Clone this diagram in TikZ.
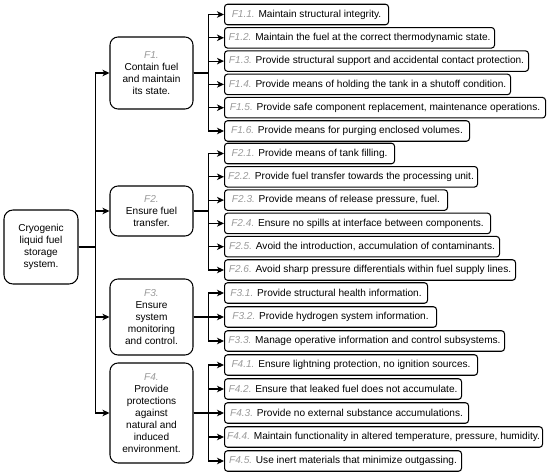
\documentclass[tikz,border=0pt]{standalone}
\usepackage{fontspec}
\setmainfont{Liberation Sans}
\usetikzlibrary{arrows.meta}
\definecolor{lbl}{HTML}{9A9A9A}
\newcommand{\fl}[1]{{\color{lbl}\itshape #1}}
\tikzset{
  base/.style={draw=black, line width=1.05pt, font=\fontsize{10.1}{11.9}\selectfont, text=black},
  rootbox/.style={base, rounded corners=9pt, minimum width=74pt, minimum height=74pt, align=center, inner sep=1pt},
  midbox/.style={base, rounded corners=8pt, minimum width=83pt, align=center, inner sep=1pt},
  leaf/.style={base, rounded corners=3pt, anchor=west, minimum height=20.5pt, inner xsep=1pt, inner ysep=0pt},
  arr/.style={line width=1.05pt, -{Stealth[length=7pt,width=6.5pt,inset=2pt]}},
}
\begin{document}
\begin{tikzpicture}[x=1pt,y=-1pt]
\useasboundingbox (0,0) rectangle (550,476);
\node[rootbox] (root) at (41,247) {Cryogenic\\liquid fuel\\storage\\system.};

\node[midbox, minimum height=72pt] (f1) at (151.5,73) {\fl{F1.}\\Contain fuel\\and maintain\\its state.};
\node[midbox, minimum height=50pt] (f2) at (151.5,211) {\fl{F2.}\\Ensure fuel\\transfer.};
\node[midbox, minimum height=76pt] (f3) at (151.5,317) {\fl{F3.}\\Ensure\\system\\monitoring\\and control.};
\node[midbox, minimum height=100pt] (f4) at (151.5,413) {\fl{F4.}\\Provide\\protections\\against\\natural and\\induced\\environment.};

\foreach \m in {f1,f2,f3,f4}
  \draw[arr] (root.east) -- ++(17,0) |- (\m.west);

% F1 leaves
\node[leaf, minimum width=164pt] (f11) at (224,14.5) {\fl{F1.1.} Maintain structural integrity.};
\node[leaf, minimum width=270pt] (f12) at (224,37.8) {\fl{F1.2.} Maintain the fuel at the correct thermodynamic state.};
\node[leaf, minimum width=304pt] (f13) at (224,61.1) {\fl{F1.3.} Provide structural support and accidental contact protection.};
\node[leaf, minimum width=286pt] (f14) at (224,84.4) {\fl{F1.4.} Provide means of holding the tank in a shutoff condition.};
\node[leaf, minimum width=321pt] (f15) at (224,107.7) {\fl{F1.5.} Provide safe component replacement, maintenance operations.};
\node[leaf, minimum width=245pt] (f16) at (224,131) {\fl{F1.6.} Provide means for purging enclosed volumes.};
\foreach \l in {f11,f12,f13,f14,f15,f16}
  \draw[arr] (f1.east) -- ++(15,0) |- (\l.west);

% F2 leaves
\node[leaf, minimum width=170pt] (f21) at (224,153.5) {\fl{F2.1.} Provide means of tank filling.};
\node[leaf, minimum width=253pt] (f22) at (224,176.8) {\fl{F2.2.} Provide fuel transfer towards the processing unit.};
\node[leaf, minimum width=223pt] (f23) at (224,200.1) {\fl{F2.3.} Provide means of release pressure, fuel.};
\node[leaf, minimum width=266pt] (f24) at (224,223.4) {\fl{F2.4.} Ensure no spills at interface between components.};
\node[leaf, minimum width=275pt] (f25) at (224,246.7) {\fl{F2.5.} Avoid the introduction, accumulation of contaminants.};
\node[leaf, minimum width=291pt] (f26) at (224,270) {\fl{F2.6.} Avoid sharp pressure differentials within fuel supply lines.};
\foreach \l in {f21,f22,f23,f24,f25,f26}
  \draw[arr] (f2.east) -- ++(15,0) |- (\l.west);

% F3 leaves
\node[leaf, minimum width=203pt] (f31) at (224,293) {\fl{F3.1.} Provide structural health information.};
\node[leaf, minimum width=212pt] (f32) at (224,317) {\fl{F3.2.} Provide hydrogen system information.};
\node[leaf, minimum width=280pt] (f33) at (224,341) {\fl{F3.3.} Manage operative information and control subsystems.};
\foreach \l in {f31,f32,f33}
  \draw[arr] (f3.east) -- ++(15,0) |- (\l.west);

% F4 leaves
\node[leaf, minimum width=253pt] (f41) at (224,365) {\fl{F4.1.} Ensure lightning protection, no ignition sources.};
\node[leaf, minimum width=237pt] (f42) at (224,389) {\fl{F4.2.} Ensure that leaked fuel does not accumulate.};
\node[leaf, minimum width=244pt] (f43) at (224,413) {\fl{F4.3.} Provide no external substance accumulations.};
\node[leaf, minimum width=318pt] (f44) at (224,437) {\fl{F4.4.} Maintain functionality in altered temperature, pressure, humidity.};
\node[leaf, minimum width=237pt] (f45) at (224,461) {\fl{F4.5.} Use inert materials that minimize outgassing.};
\foreach \l in {f41,f42,f43,f44,f45}
  \draw[arr] (f4.east) -- ++(15,0) |- (\l.west);
\end{tikzpicture}
\end{document}
